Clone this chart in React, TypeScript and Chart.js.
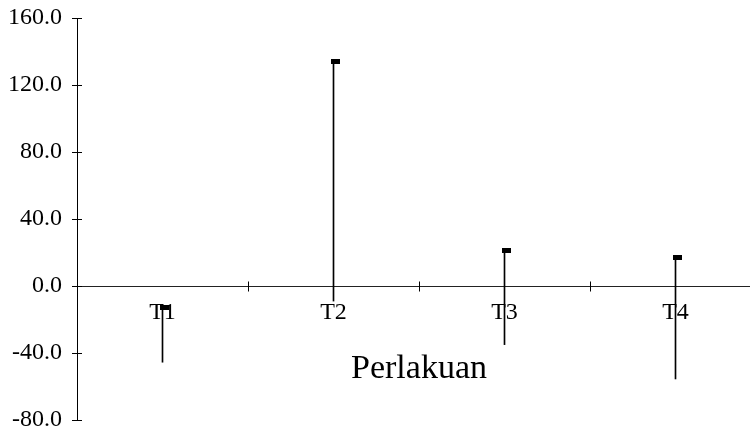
import React, { useEffect, useRef } from "react";
import { Chart, registerables } from "chart.js";

Chart.register(...registerables);

const categories = ["T1", "T2", "T3", "T4"];
const highValues = [-13, 134, 21, 17];
const lowValues = [-45.5, -9, -35, -55.5];
const closeValues = [-13, 134, 21, 17];
const yTicks = [-80, -40, 0, 40, 80, 120, 160];
const axisTitle = "Perlakuan";

const FONT = "'Liberation Serif', 'Times New Roman', serif";

function makeMarker(): HTMLCanvasElement {
  const c = document.createElement("canvas");
  c.width = 17;
  c.height = 5;
  const ctx = c.getContext("2d")!;
  ctx.fillStyle = "#000";
  ctx.fillRect(6, 0, 9, 5);
  return c;
}

const crossTicks = {
  id: "crossTicks",
  afterDraw(chart: any) {
    const ctx = chart.ctx;
    const x = chart.scales.x;
    const y = chart.scales.y;
    ctx.save();
    ctx.lineWidth = 1;
    ctx.strokeStyle = "#000";
    const axX = chart.chartArea.left;
    yTicks.forEach((v) => {
      const py = Math.round(y.getPixelForValue(v)) + 0.5;
      ctx.beginPath();
      ctx.moveTo(axX - 5, py);
      ctx.lineTo(axX + 5, py);
      ctx.stroke();
    });
    const zy = Math.round(y.getPixelForValue(0)) + 0.5;
    for (let i = 0; i < categories.length - 1; i++) {
      const bx = Math.round((x.getPixelForTick(i) + x.getPixelForTick(i + 1)) / 2) + 0.5;
      ctx.beginPath();
      ctx.moveTo(bx, zy - 5);
      ctx.lineTo(bx, zy + 5);
      ctx.stroke();
    }
    ctx.restore();
  },
};

export default function App() {
  const ref = useRef<HTMLCanvasElement | null>(null);
  useEffect(() => {
    const marker = makeMarker();
    const chart = new Chart(ref.current!, {
      type: "bar",
      data: {
        labels: categories,
        datasets: [
          {
            type: "bar",
            data: categories.map((_, i) => [lowValues[i], highValues[i]]) as any,
            backgroundColor: "#000",
            barThickness: 1,
            borderWidth: 0,
            order: 2,
          },
          {
            type: "line",
            data: closeValues,
            showLine: false,
            pointStyle: marker as any,
            pointRadius: 5,
            order: 1,
          } as any,
        ],
      },
      options: {
        responsive: false,
        animation: false,
        devicePixelRatio: 1,
        layout: { padding: { top: 18, right: 9, bottom: 13, left: 0 } },
        plugins: { legend: { display: false }, tooltip: { enabled: false } },
        scales: {
          x: {
            type: "category",
            position: { y: 0 } as any,
            offset: true,
            grid: { display: false, drawTicks: false },
            border: { display: true, color: "#222", width: 1 },
            ticks: { color: "#000", padding: 12, font: { family: FONT, size: 24 } },
            title: {
              display: true,
              text: axisTitle,
              color: "#000",
              font: { family: FONT, size: 34 },
              padding: { top: 10, bottom: 0 },
            },
            afterFit: (s: any) => {
              s.paddingLeft = 0;
              s.paddingRight = 0;
            },
          },
          y: {
            min: -80,
            max: 160,
            afterFit: (s: any) => {
              s.width = 77;
              s.paddingTop = 0;
              s.paddingBottom = 0;
            },
            afterBuildTicks: (s: any) => {
              s.ticks = yTicks.map((v) => ({ value: v }));
            },
            grid: { display: false, drawTicks: false },
            border: { display: true, color: "#000", width: 1 },
            ticks: {
              color: "#000",
              padding: 15,
              font: { family: FONT, size: 24 },
              callback: (v: any) => Number(v).toFixed(1),
            },
          },
        },
      },
      plugins: [crossTicks],
    });
    return () => chart.destroy();
  }, []);
  return (
    <div style={{ position: "fixed", left: 0, top: 0, width: 750, height: 433, overflow: "hidden", background: "#fff" }}>
      <canvas ref={ref} width={770} height={433} style={{ width: 770, height: 433, display: "block" }} />
    </div>
  );
}
